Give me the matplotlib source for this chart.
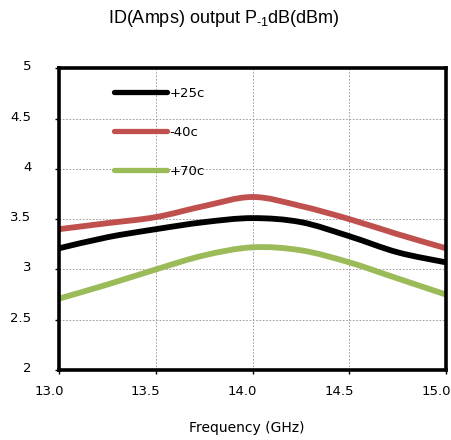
import numpy as np
import matplotlib.pyplot as plt
import matplotlib.transforms as mtransforms
from matplotlib.path import Path
from matplotlib.patches import PathPatch
from matplotlib.lines import Line2D

plt.rcParams['mathtext.fontset'] = 'custom'
plt.rcParams['mathtext.rm'] = 'Liberation Sans'
plt.rcParams['mathtext.it'] = 'Liberation Sans:italic'

# frequency points (GHz) and P-1dB readings per temperature
freq = [13.0, 13.25, 13.5, 13.75, 14.0, 14.25, 14.5, 14.75, 15.0]
p_25c = [3.21, 3.32, 3.40, 3.47, 3.51, 3.47, 3.33, 3.17, 3.07]
p_m40c = [3.40, 3.46, 3.52, 3.63, 3.72, 3.63, 3.50, 3.35, 3.21]
p_70c = [2.71, 2.85, 3.00, 3.14, 3.22, 3.19, 3.07, 2.91, 2.75]

labels = ['+25c', '-40c', '+70c']
colors = ['#000000', '#c0504d', '#9bbb59']

xticks = [13.0, 13.5, 14.0, 14.5, 15.0]
xtick_labels = ['13.0', '13.5', '14.0', '14.5', '15.0']
yticks = [2, 2.5, 3, 3.5, 4, 4.5, 5]
ytick_labels = ['2', '2.5', '3', '3.5', '4', '4.5', '5']


def smooth_path(x, y, t=1 / 6):
    # catmull-rom style cubic bezier through every point
    x = np.asarray(x, float)
    y = np.asarray(y, float)
    n = len(x)
    verts = [(x[0], y[0])]
    codes = [Path.MOVETO]
    for i in range(n - 1):
        i0 = max(i - 1, 0)
        i3 = min(i + 2, n - 1)
        c1 = (x[i] + (x[i + 1] - x[i0]) * t, y[i] + (y[i + 1] - y[i0]) * t)
        c2 = (x[i + 1] - (x[i3] - x[i]) * t, y[i + 1] - (y[i3] - y[i]) * t)
        verts += [c1, c2, (x[i + 1], y[i + 1])]
        codes += [Path.CURVE4] * 3
    return Path(verts, codes)


fig = plt.figure(figsize=(4.51, 4.40), dpi=100)
ax = fig.add_axes([0.131, 0.159, 0.858, 0.686])

for vals, c in zip([p_25c, p_m40c, p_70c], colors):
    patch = PathPatch(smooth_path(freq, vals), facecolor='none', edgecolor=c,
                      lw=4.2, capstyle='butt', zorder=3)
    ax.add_patch(patch)

ax.set_xlim(13.0, 15.0)
ax.set_ylim(2, 5)
ax.set_xticks(xticks)
ax.set_xticklabels(xtick_labels, fontsize=9.5, family='DejaVu Sans')
ax.set_yticks(yticks)
ax.set_yticklabels(ytick_labels, fontsize=9.5, family='DejaVu Sans')
ax.tick_params(direction='out', length=3, width=1, pad=8, color='black')
ax.tick_params(axis='y', pad=17)

# tick labels sit a little left of / above their ticks
shift_x = mtransforms.ScaledTranslation(-10 / 100, 0, fig.dpi_scale_trans)
for lab in ax.get_xticklabels():
    lab.set_transform(lab.get_transform() + shift_x)
shift_y = mtransforms.ScaledTranslation(0, 3 / 100, fig.dpi_scale_trans)
for lab in ax.get_yticklabels():
    lab.set_transform(lab.get_transform() + shift_y)

ax.grid(True, color='#909090', linestyle=(0, (2, 2)), linewidth=0.6)
ax.set_axisbelow(True)
for s in ax.spines.values():
    s.set_linewidth(2.6)
    s.set_color('black')
    s.set_zorder(5)

handles = [Line2D([], [], color=c, lw=3.8, solid_capstyle='round') for c in colors]
ax.legend(handles, labels, loc='upper left', bbox_to_anchor=(0.128, 0.955),
          frameon=False, handlelength=4.0, handletextpad=0.2,
          labelspacing=1.95, borderaxespad=0, prop={'family': 'DejaVu Sans', 'size': 9.5})

ax.set_xlabel('Frequency (GHz)', fontsize=10, family='DejaVu Sans', labelpad=16)
ax.xaxis.label.set_x(0.485)
fig.text(0.497, 0.958, r'ID(Amps) output P$_{\text{-1}}$dB(dBm)', ha='center', va='center',
         fontsize=13, family='Liberation Sans')

fig.savefig('out.png', dpi=100)
